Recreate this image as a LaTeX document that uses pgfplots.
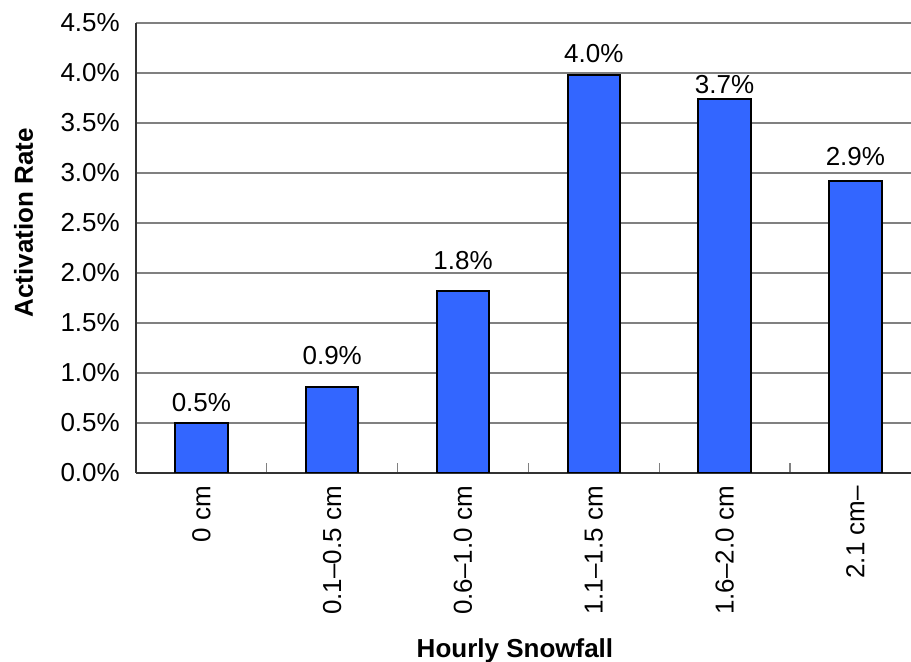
\documentclass[border=0pt]{standalone}
\usepackage{pgfplots}
\pgfplotsset{compat=1.18}
\usepackage{fontspec}
\setmainfont{Liberation Sans}
\definecolor{barblue}{HTML}{3366FF}
\definecolor{gridgray}{HTML}{808080}
\begin{document}
\begin{tikzpicture}
\begin{axis}[
  scale only axis, width=775bp, height=450bp,
  xmin=-0.5, xmax=5.425, ymin=0, ymax=4.5,
  axis x line*=bottom, axis y line*=left,
  axis line style={draw=black!80, line width=1.5bp},
  /pgf/number format/assume math mode=true,
  font=\fontsize{26bp}{31bp}\selectfont,
  ytick={0,0.5,...,4.5},
  yticklabel={\pgfmathprintnumber[fixed,fixed zerofill,precision=1]{\tick}\%},
  yticklabel style={inner sep=0pt, xshift=-16bp},
  ymajorgrids, grid style={draw=gridgray, line width=1.3bp},
  xtick={0,1,2,3,4,5},
  xticklabels={0 cm, 0.1--0.5 cm, 0.6--1.0 cm, 1.1--1.5 cm, 1.6--2.0 cm, 2.1 cm--},
  xticklabel style={rotate=90, anchor=east, inner sep=0pt, xshift=-13bp},
  minor xtick={0.5,1.5,2.5,3.5,4.5},
  tick align=inside,
  major tick length=0pt, minor tick length=10bp,
  minor tick style={draw=gridgray, line width=1.3bp},
  xlabel={\bfseries Hourly Snowfall},
  ylabel={\bfseries Activation Rate},
  every axis x label/.style={at={(rel axis cs:0.489,-0.411)}, anchor=base},
  every axis y label/.style={at={(rel axis cs:-0.1329,0.556)}, anchor=base, rotate=90},
]
\addplot[ybar, bar width=0.4, fill=barblue, draw=black, line width=2bp]
  coordinates {(0,0.50) (1,0.86) (2,1.82) (3,3.98) (4,3.74) (5,2.92)};
\addplot[draw=none, mark=none,
  nodes near coords, point meta=explicit symbolic,
  every node near coord/.style={anchor=center, inner sep=0pt}]
  table[meta=lab] {
x y lab
0 0.70 0.5\%
1 1.17 0.9\%
2 2.12 1.8\%
3 4.19 4.0\%
4 3.88 3.7\%
5 3.16 2.9\%
};
\end{axis}
\pgfresetboundingbox
\path[use as bounding box] ([xshift=-136bp,yshift=-189bp]current axis.south west) rectangle ([yshift=23bp]current axis.north east);
\end{tikzpicture}
\end{document}
